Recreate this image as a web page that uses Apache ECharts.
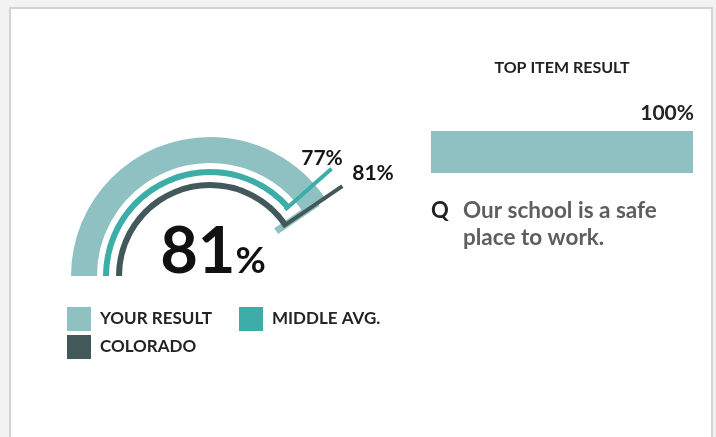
<!DOCTYPE html>
<html>
<head>
<meta charset="utf-8">
<script src="https://cdn.jsdelivr.net/npm/echarts@6/dist/echarts.min.js"></script>
<style>
  html, body { margin: 0; padding: 0; width: 716px; height: 437px; overflow: hidden; background: #f2f2f2; }
  #panel { position: absolute; left: 9px; top: 7px; width: 700px; height: 440px;
           border: 2px solid #d3d3d3; border-bottom: none; background: #fff; }
  #chart { position: absolute; left: 0; top: 0; width: 716px; height: 437px; }
</style>
</head>
<body>
<div id="panel"></div>
<div id="chart"></div>
<script>
// Ring gauge: your result vs. middle-school average vs. state
const seriesNames = ['YOUR RESULT', 'MIDDLE AVG.', 'COLORADO'];
const seriesValues = [81, 77, 81];
const seriesColors = ['#90c1c2', '#3dada8', '#43585a'];

// Top item panel
const topItemTitle = 'TOP ITEM RESULT';
const topItemQuestion = ['Our school is a safe', 'place to work.'];
const topItemValues = [100];

const FONT = 'Lato, "Open Sans", sans-serif';
const CENTER = [210, 276];

// outer radius, thickness and end-marker geometry for each ring
const rings = [
  { radius: 139, width: 26, tickFrom: 80,  tickLen: 50, tickWidth: 7, labelOffset: [3, -24] },
  { radius: 107, width: 6,  tickFrom: 100, tickLen: 62, tickWidth: 4, labelOffset: [112, -118] },
  { radius: 94,  width: 6,  tickFrom: 88,  tickLen: 72, tickWidth: 4, labelOffset: [163, -103] }
];

// legend swatch positions (two columns, two rows)
const legendSlots = [[67, 307], [239, 307], [67, 335]];

function ringDetail(i) {
  const base = {
    show: true,
    offsetCenter: rings[i].labelOffset,
    fontFamily: FONT,
    fontWeight: 'bold',
    color: '#161616',
    width: null,
    height: null,
    padding: 0,
    backgroundColor: 'transparent'
  };
  if (i === 0) {
    return Object.assign(base, {
      formatter: v => '{num|' + v + '}{pct|%}',
      rich: {
        num: { fontFamily: FONT, fontWeight: 'bold', fontSize: 65, lineHeight: 65, color: '#111', verticalAlign: 'bottom' },
        pct: { fontFamily: FONT, fontWeight: 'bold', fontSize: 37, lineHeight: 37, color: '#111', verticalAlign: 'bottom', padding: [0, 0, 5, 0] }
      }
    });
  }
  return Object.assign(base, { formatter: '{value}%', fontSize: 21, lineHeight: 24 });
}

const gaugeSeries = seriesNames.map((name, i) => ({
  type: 'gauge',
  name: name,
  center: CENTER,
  radius: rings[i].radius,
  startAngle: 180,
  endAngle: 0,
  min: 0,
  max: 100,
  z: 2 + i,
  axisLine: { show: false },
  splitLine: { show: false },
  axisTick: { show: false },
  axisLabel: { show: false },
  anchor: { show: false },
  title: { show: false },
  itemStyle: { color: seriesColors[i] },
  progress: { show: true, width: rings[i].width, overlap: true, itemStyle: { color: seriesColors[i] } },
  pointer: {
    show: true,
    icon: 'rect',
    width: rings[i].tickWidth,
    length: rings[i].tickLen,
    offsetCenter: [0, -rings[i].tickFrom],
    itemStyle: { color: seriesColors[i] }
  },
  detail: ringDetail(i),
  data: [{ value: seriesValues[i], name: name }]
}));

const legends = seriesNames.map((n, i) => ({
  data: [{ name: n, itemStyle: { color: seriesColors[i] } }],
  left: legendSlots[i][0],
  top: legendSlots[i][1],
  padding: 0,
  orient: 'horizontal',
  icon: 'rect',
  itemWidth: 24,
  itemHeight: 24,
  selectedMode: false,
  textStyle: { fontFamily: FONT, fontSize: 17, fontWeight: 'bold', color: '#232323', padding: [0, 0, 0, 4] }
}));

const chart = echarts.init(document.getElementById('chart'), null, { renderer: 'canvas' });

chart.setOption({
  animation: false,
  backgroundColor: 'transparent',
  textStyle: { fontFamily: FONT },
  legend: legends,
  grid: { left: 431, top: 131, width: 262, height: 42 },
  xAxis: { type: 'value', min: 0, max: 100, show: false },
  yAxis: { type: 'category', data: [topItemQuestion.join(' ')], show: false },
  graphic: [
    {
      type: 'text', x: 562, y: 68,
      style: { text: topItemTitle, fontFamily: FONT, fontSize: 16, fontWeight: 'bold', fill: '#222',
               textAlign: 'center', textVerticalAlign: 'middle' }
    },
    {
      type: 'text', x: 431, y: 211,
      style: { text: 'Q', fontFamily: FONT, fontSize: 22, fontWeight: 'bold', fill: '#222',
               textAlign: 'left', textVerticalAlign: 'middle' }
    },
    {
      type: 'text', x: 463, y: 197,
      style: { text: topItemQuestion.join('\n'), fontFamily: FONT, fontSize: 22.5, fontWeight: 'bold',
               lineHeight: 27, fill: '#5e5e5e', textAlign: 'left', textVerticalAlign: 'top' }
    }
  ],
  series: gaugeSeries.concat([{
    type: 'bar',
    data: topItemValues,
    barWidth: 42,
    itemStyle: { color: seriesColors[0] },
    label: {
      show: true,
      position: ['100%', 0],
      align: 'right',
      verticalAlign: 'bottom',
      offset: [1, -7],
      formatter: '{c}%',
      fontFamily: FONT,
      fontSize: 21,
      fontWeight: 'bold',
      color: '#222'
    }
  }])
});
</script>
</body>
</html>
